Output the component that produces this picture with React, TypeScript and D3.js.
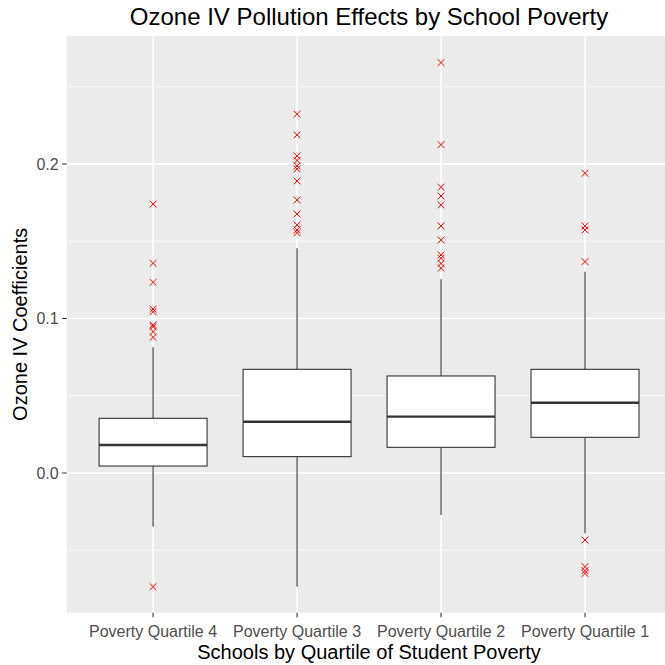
import React from "react";
import * as d3 from "d3";

const categories = ["Poverty Quartile 4", "Poverty Quartile 3", "Poverty Quartile 2", "Poverty Quartile 1"];
const lowerWhisker = [-0.0347, -0.0736, -0.0272, -0.039];
const q1 = [0.0045, 0.0106, 0.0166, 0.0231];
const median = [0.0181, 0.0332, 0.0365, 0.0455];
const q3 = [0.0354, 0.0671, 0.0628, 0.0671];
const upperWhisker = [0.0814, 0.1454, 0.1254, 0.1303];
const outliersQ4 = [-0.0736, 0.174, 0.1357, 0.1234, 0.1061, 0.1044, 0.0958, 0.0947, 0.0915, 0.0878];
const outliersQ3 = [0.2322, 0.2188, 0.2052, 0.2022, 0.1987, 0.1968, 0.189, 0.1767, 0.1676, 0.1605, 0.1573, 0.1555];
const outliersQ2 = [0.2656, 0.2125, 0.1849, 0.1793, 0.1735, 0.1599, 0.1508, 0.1411, 0.139, 0.1357, 0.1325];
const outliersQ1 = [0.194, 0.1599, 0.1573, 0.1368, -0.0434, -0.0606, -0.0632, -0.065];
const outliers = [outliersQ4, outliersQ3, outliersQ2, outliersQ1];
const yTicks = [0.0, 0.1, 0.2];
const yMinor = [-0.05, 0.05, 0.15, 0.25];
const yDomain = [-0.0904, 0.2828];

const W = 665;
const H = 665;
const panel = { left: 66.7, right: 671.4, top: 36, bottom: 612.7 };
const FONT = "'Liberation Sans', Arial, sans-serif";

export default function App() {
  const x = d3.scalePoint<string>().domain(categories).range([panel.left, panel.right]).padding(0.6);
  const y = d3.scaleLinear().domain(yDomain).range([panel.bottom, panel.top]);
  const step = x.step();
  const boxW = step * 0.75;
  const fmt = d3.format(".1f");
  const midX = (panel.left + panel.right) / 2;
  const midY = (panel.top + panel.bottom) / 2;
  const xs = 3.4;

  return (
    <svg width={W} height={H} style={{ position: "fixed", top: 0, left: 0, background: "#fff" }} fontFamily={FONT}>
      <rect x={panel.left} y={panel.top} width={panel.right - panel.left} height={panel.bottom - panel.top} fill="#EBEBEB" />
      {yMinor.map((v) => (
        <line key={"mn" + v} x1={panel.left} x2={panel.right} y1={y(v)} y2={y(v)} stroke="#fff" strokeWidth={0.7} />
      ))}
      {yTicks.map((v) => (
        <line key={"mj" + v} x1={panel.left} x2={panel.right} y1={y(v)} y2={y(v)} stroke="#fff" strokeWidth={1.4} />
      ))}
      {categories.map((c) => (
        <line key={"vx" + c} x1={x(c)} x2={x(c)} y1={panel.top} y2={panel.bottom} stroke="#fff" strokeWidth={1.4} />
      ))}
      {categories.map((c, i) => {
        const cx = x(c) as number;
        return (
          <g key={"box" + c}>
            <line x1={cx} x2={cx} y1={y(upperWhisker[i])} y2={y(q3[i])} stroke="#333" strokeWidth={1.1} />
            <line x1={cx} x2={cx} y1={y(q1[i])} y2={y(lowerWhisker[i])} stroke="#333" strokeWidth={1.1} />
            <rect x={cx - boxW / 2} y={y(q3[i])} width={boxW} height={y(q1[i]) - y(q3[i])} fill="#fff" stroke="#333" strokeWidth={1.1} />
            <line x1={cx - boxW / 2} x2={cx + boxW / 2} y1={y(median[i])} y2={y(median[i])} stroke="#333" strokeWidth={2.4} />
            {outliers[i].map((v, j) => (
              <path
                key={j}
                d={`M${cx - xs},${y(v) - xs}L${cx + xs},${y(v) + xs}M${cx - xs},${y(v) + xs}L${cx + xs},${y(v) - xs}`}
                stroke="#FF0000"
                strokeWidth={1}
                fill="none"
              />
            ))}
          </g>
        );
      })}
      {yTicks.map((v) => (
        <g key={"yt" + v}>
          <line x1={panel.left - 4.5} x2={panel.left} y1={y(v)} y2={y(v)} stroke="#333" strokeWidth={1.1} />
          <text x={panel.left - 8} y={y(v)} dy="0.35em" textAnchor="end" fontSize={16} fill="#4D4D4D">
            {fmt(v)}
          </text>
        </g>
      ))}
      {categories.map((c) => (
        <g key={"xt" + c}>
          <line x1={x(c)} x2={x(c)} y1={panel.bottom} y2={panel.bottom + 4.5} stroke="#333" strokeWidth={1.1} />
          <text x={x(c)} y={636.7} textAnchor="middle" fontSize={16} fill="#4D4D4D">
            {c}
          </text>
        </g>
      ))}
      <text x={midX} y={659} textAnchor="middle" fontSize={20} fill="#000">
        Schools by Quartile of Student Poverty
      </text>
      <text transform={`translate(27,${midY}) rotate(-90)`} textAnchor="middle" fontSize={20} fill="#000">
        Ozone IV Coefficients
      </text>
      <text x={midX} y={25} textAnchor="middle" fontSize={24} fill="#000">
        Ozone IV Pollution Effects by School Poverty
      </text>
    </svg>
  );
}
